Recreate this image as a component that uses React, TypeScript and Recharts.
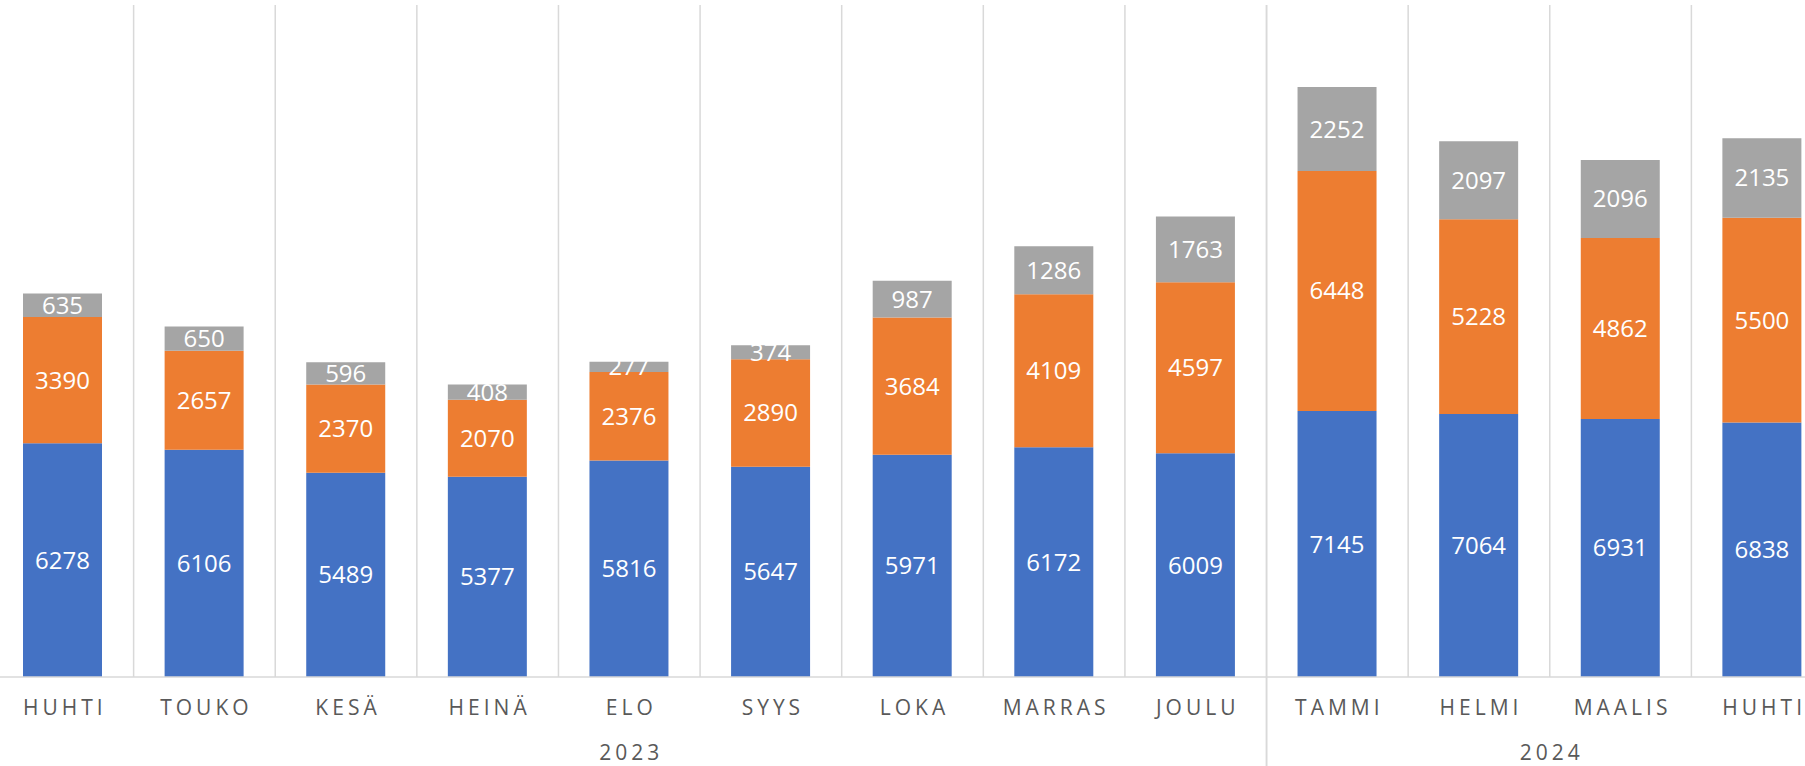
import React from "react";
import { Bar, BarChart, LabelList, XAxis, YAxis } from "recharts";

const months = ["HUHTI", "TOUKO", "KESÄ", "HEINÄ", "ELO", "SYYS", "LOKA", "MARRAS", "JOULU", "TAMMI", "HELMI", "MAALIS", "HUHTI"];
const years = ["2023", "2024"];
const monthsPerYear = [9, 4];

const blueValues = [6278, 6106, 5489, 5377, 5816, 5647, 5971, 6172, 6009, 7145, 7064, 6931, 6838];
const orangeValues = [3390, 2657, 2370, 2070, 2376, 2890, 3684, 4109, 4597, 6448, 5228, 4862, 5500];
const grayValues = [635, 650, 596, 408, 277, 374, 987, 1286, 1763, 2252, 2097, 2096, 2135];

const data = months.map((month, i) => ({
  key: String(i),
  month,
  blue: blueValues[i],
  orange: orangeValues[i],
  gray: grayValues[i]
}));

// the plot runs a little past both sides of the picture
const CHART_LEFT = -8;
const CHART_W = 1841;
const CHART_H = 766;
const PLOT_TOP = 5;
const AXIS_H = 89;
const PLOT_BOTTOM = CHART_H - AXIS_H;
const BAND = CHART_W / months.length;

const GRID = "#D9D9D9";
const TEXT = "#595959";
const FONT = "'Open Sans', 'Noto Sans', sans-serif";
const SPACING = 4;

// first index of each year group
const yearStarts = monthsPerYear.map((_, k) => monthsPerYear.slice(0, k).reduce((a, b) => a + b, 0));

function MonthTick(props: any) {
  const { x, payload } = props;
  const i = Number(payload?.index ?? payload?.value);
  const yearIdx = yearStarts.indexOf(i);
  const isYearEnd = yearStarts.includes(i + 1) || i === months.length - 1;
  const right = x + BAND / 2;
  const left = x - BAND / 2;
  return (
    <g>
      {yearIdx >= 0 && <line x1={left} x2={left} y1={PLOT_TOP} y2={CHART_H} stroke={GRID} strokeWidth={1.5} />}
      <line x1={right} x2={right} y1={PLOT_TOP} y2={isYearEnd ? CHART_H : PLOT_BOTTOM} stroke={GRID} strokeWidth={1.5} />
      <text x={x + SPACING / 2} y={715} textAnchor="middle" fill={TEXT} fontSize={21} fontFamily={FONT} letterSpacing={SPACING}>
        {months[i]}
      </text>
      {yearIdx >= 0 && (
        <text
          x={left + (monthsPerYear[yearIdx] * BAND) / 2 + SPACING / 2}
          y={760}
          textAnchor="middle"
          fill={TEXT}
          fontSize={21}
          fontFamily={FONT}
          letterSpacing={SPACING}
        >
          {years[yearIdx]}
        </text>
      )}
    </g>
  );
}

const labelProps = { position: "center" as const, fill: "#FFFFFF", fontSize: 24, fontFamily: FONT };

export default function App() {
  return (
    <div style={{ position: "absolute", left: 0, top: 0, width: 1805, height: 766, overflow: "hidden", background: "#fff" }}>
      <div style={{ position: "absolute", left: CHART_LEFT, top: 0 }}>
        <BarChart width={CHART_W} height={CHART_H} data={data} margin={{ top: PLOT_TOP, right: 0, bottom: 0, left: 0 }}>
          <XAxis
            dataKey="key"
            height={AXIS_H}
            interval={0}
            tickLine={false}
            axisLine={{ stroke: GRID, strokeWidth: 1.5 }}
            tick={<MonthTick />}
          />
          <YAxis hide domain={[0, 18050]} />
          <Bar dataKey="blue" stackId="a" fill="#4472C4" barSize={79} isAnimationActive={false}>
            <LabelList dataKey="blue" {...labelProps} />
          </Bar>
          <Bar dataKey="orange" stackId="a" fill="#ED7D31" barSize={79} isAnimationActive={false}>
            <LabelList dataKey="orange" {...labelProps} />
          </Bar>
          <Bar dataKey="gray" stackId="a" fill="#A5A5A5" barSize={79} isAnimationActive={false}>
            <LabelList dataKey="gray" {...labelProps} />
          </Bar>
        </BarChart>
      </div>
    </div>
  );
}
